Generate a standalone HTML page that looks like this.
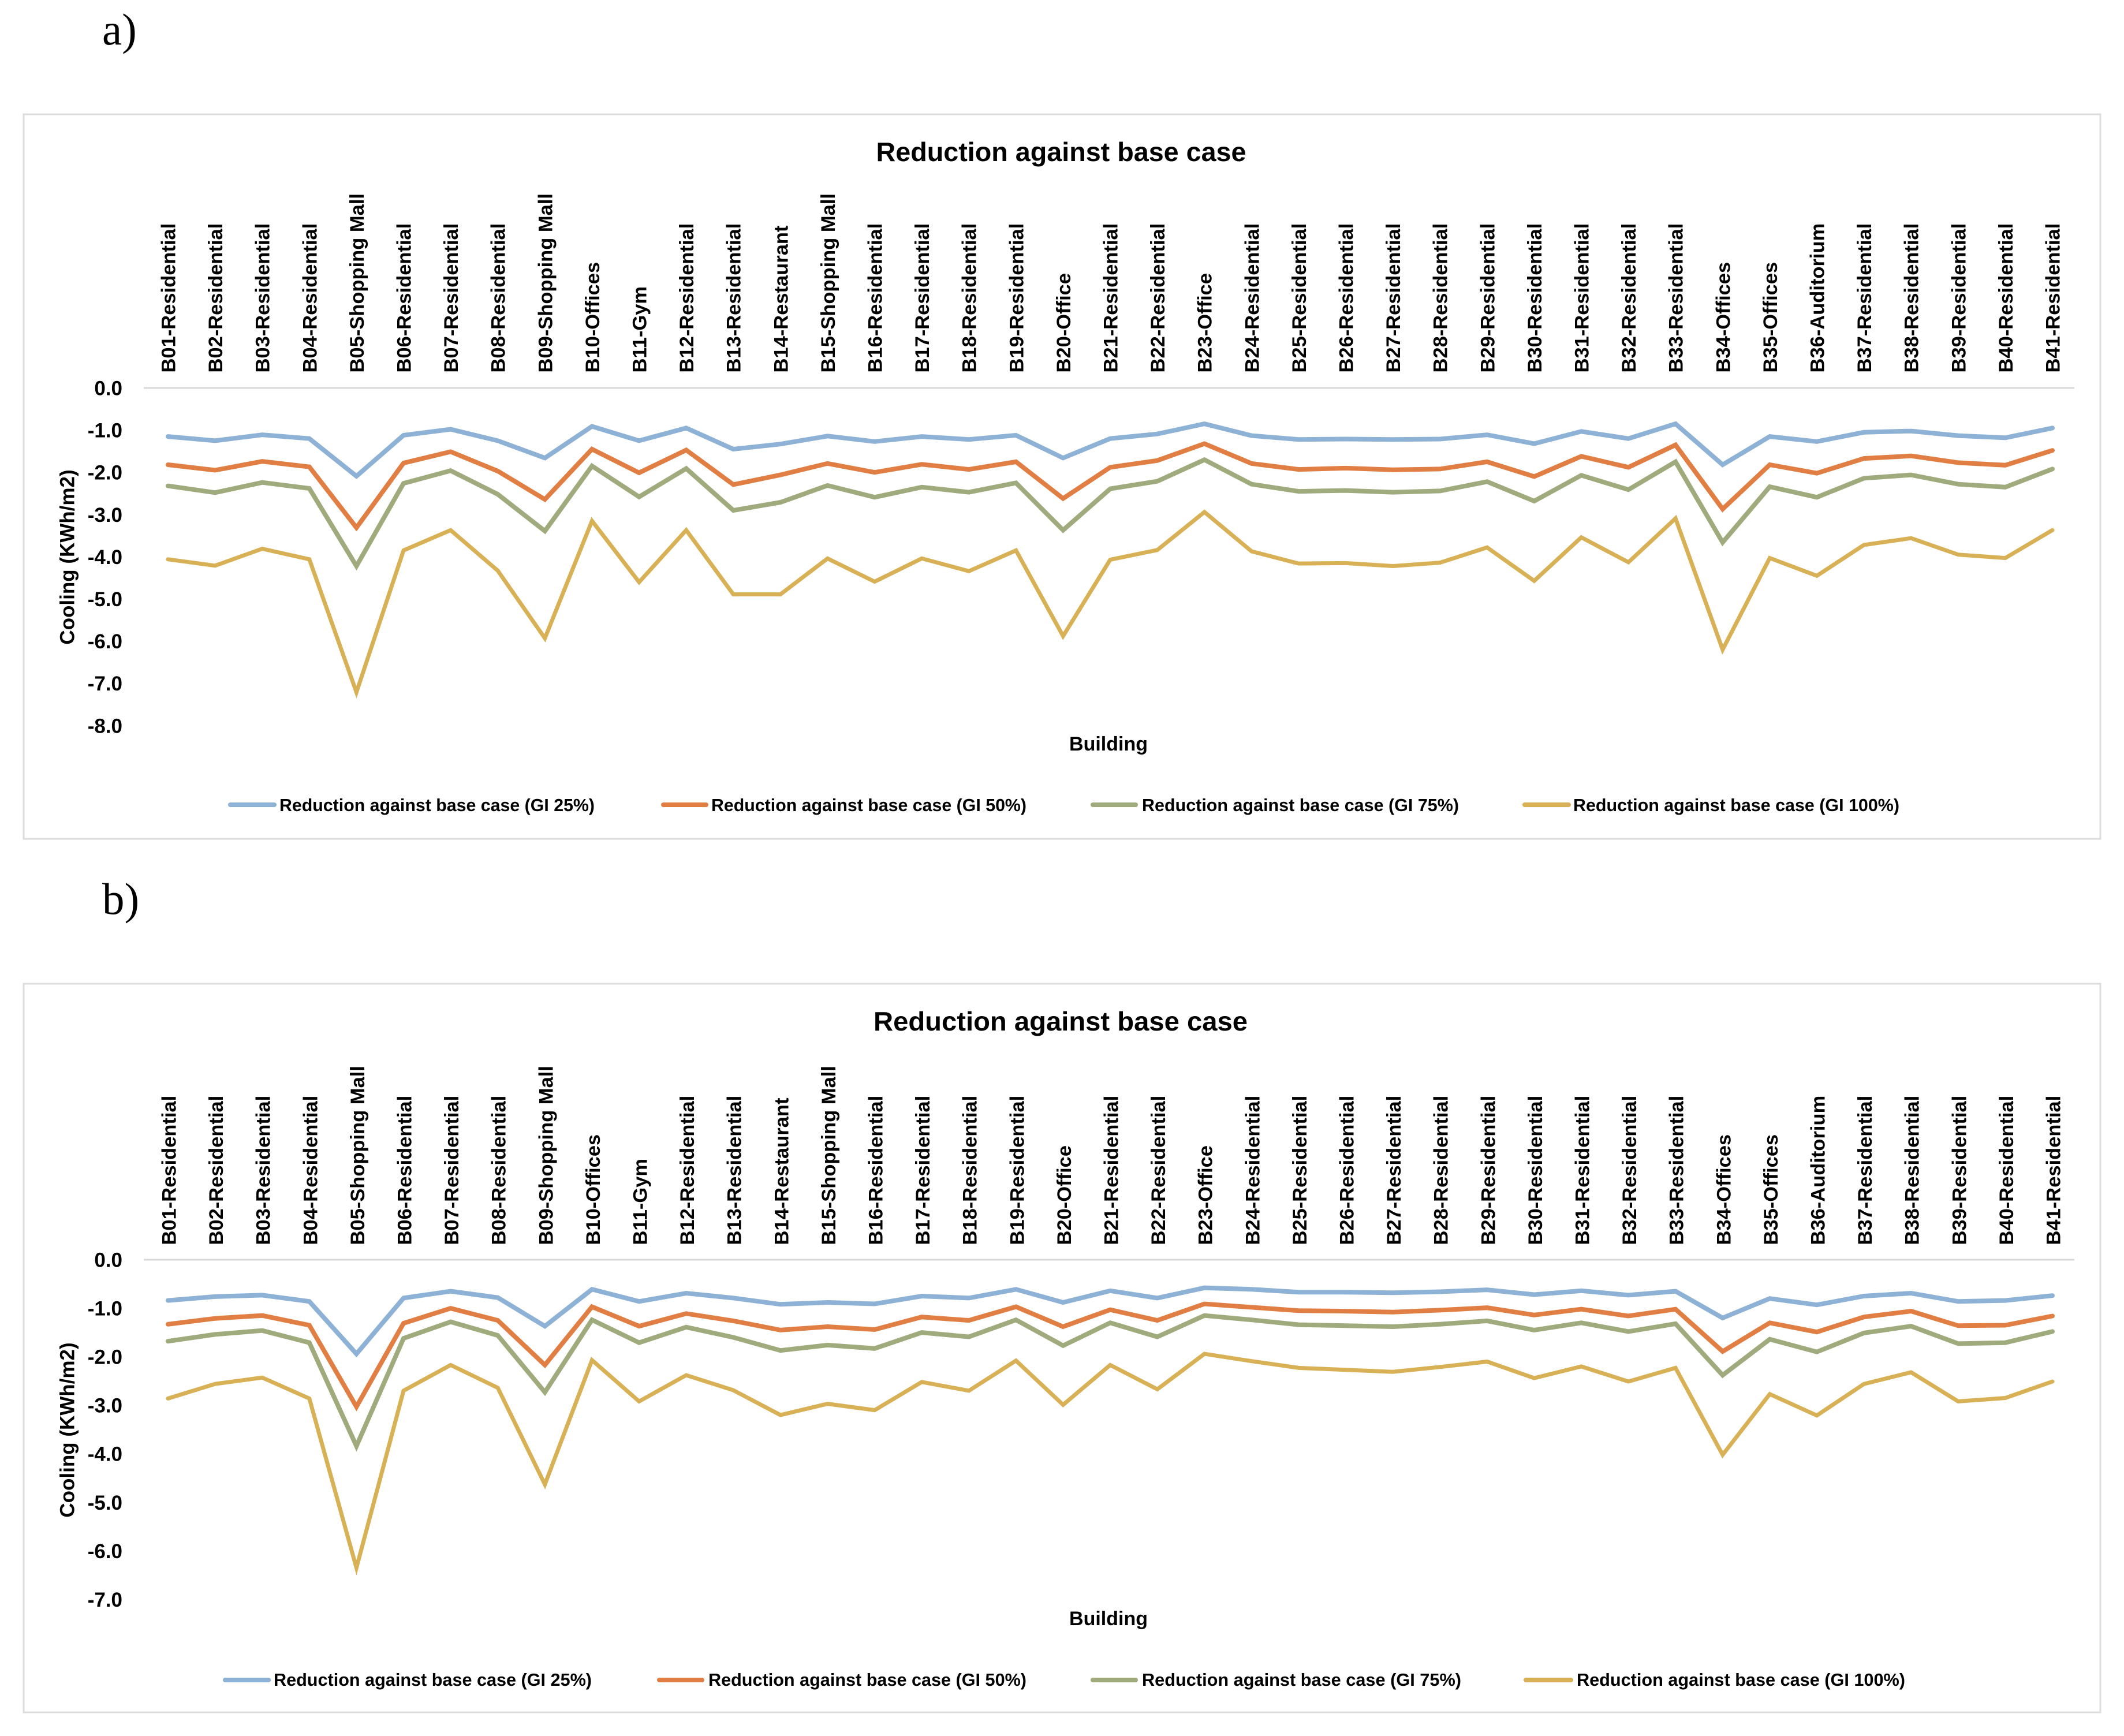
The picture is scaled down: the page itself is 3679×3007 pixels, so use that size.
<!DOCTYPE html>
<html lang="en">
<head>
<meta charset="utf-8">
<title>Reduction against base case</title>
<style>
html,body{margin:0;padding:0;background:#fff;}
svg{display:block;}
text{font-family:"Liberation Sans",sans-serif;font-weight:bold;fill:#000;}
.panel{font-family:"Liberation Serif",serif;font-weight:normal;font-size:77px;}
</style>
</head>
<body>
<svg id="figure" xmlns="http://www.w3.org/2000/svg" width="3679" height="3007" viewBox="0 0 3679 3007">
  <rect x="0" y="0" width="3679" height="3007" fill="#ffffff"/>
  <text class="panel" x="177" y="77">a)</text>
  <text class="panel" x="177" y="1583">b)</text>
</svg>
<script>
const categories = ["B01-Residential","B02-Residential","B03-Residential","B04-Residential","B05-Shopping Mall","B06-Residential","B07-Residential","B08-Residential","B09-Shopping Mall","B10-Offices","B11-Gym","B12-Residential","B13-Residential","B14-Restaurant","B15-Shopping Mall","B16-Residential","B17-Residential","B18-Residential","B19-Residential","B20-Office","B21-Residential","B22-Residential","B23-Office","B24-Residential","B25-Residential","B26-Residential","B27-Residential","B28-Residential","B29-Residential","B30-Residential","B31-Residential","B32-Residential","B33-Residential","B34-Offices","B35-Offices","B36-Auditorium","B37-Residential","B38-Residential","B39-Residential","B40-Residential","B41-Residential"];
const seriesNames = ["Reduction against base case (GI 25%)","Reduction against base case (GI 50%)","Reduction against base case (GI 75%)","Reduction against base case (GI 100%)"];
const ticksA = [0,-1,-2,-3,-4,-5,-6,-7,-8];
const ticksB = [0,-1,-2,-3,-4,-5,-6,-7];

const a25 = [-1.15,-1.25,-1.11,-1.20,-2.09,-1.12,-0.98,-1.25,-1.66,-0.91,-1.25,-0.95,-1.45,-1.33,-1.14,-1.27,-1.15,-1.22,-1.12,-1.66,-1.20,-1.09,-0.85,-1.13,-1.22,-1.21,-1.22,-1.21,-1.11,-1.32,-1.03,-1.20,-0.85,-1.82,-1.15,-1.27,-1.05,-1.02,-1.13,-1.18,-0.95];
const a50 = [-1.82,-1.95,-1.74,-1.87,-3.31,-1.78,-1.51,-1.97,-2.64,-1.45,-2.01,-1.47,-2.29,-2.06,-1.79,-2.00,-1.81,-1.93,-1.75,-2.62,-1.88,-1.72,-1.32,-1.79,-1.93,-1.90,-1.94,-1.92,-1.75,-2.10,-1.62,-1.88,-1.35,-2.87,-1.82,-2.02,-1.67,-1.61,-1.77,-1.83,-1.48];
const a75 = [-2.32,-2.48,-2.24,-2.38,-4.22,-2.26,-1.96,-2.52,-3.39,-1.85,-2.58,-1.91,-2.90,-2.71,-2.31,-2.59,-2.35,-2.47,-2.25,-3.37,-2.39,-2.21,-1.70,-2.28,-2.45,-2.43,-2.47,-2.44,-2.22,-2.68,-2.07,-2.41,-1.75,-3.66,-2.34,-2.59,-2.14,-2.06,-2.28,-2.35,-1.92];
const a100 = [-4.06,-4.21,-3.81,-4.06,-7.21,-3.85,-3.37,-4.33,-5.93,-3.15,-4.60,-3.37,-4.89,-4.89,-4.04,-4.59,-4.04,-4.34,-3.85,-5.88,-4.07,-3.84,-2.94,-3.87,-4.16,-4.15,-4.22,-4.14,-3.78,-4.57,-3.54,-4.13,-3.09,-6.20,-4.03,-4.45,-3.72,-3.56,-3.95,-4.03,-3.37];

const b25 = [-0.84,-0.76,-0.73,-0.86,-1.94,-0.79,-0.65,-0.78,-1.37,-0.61,-0.86,-0.69,-0.79,-0.92,-0.88,-0.91,-0.75,-0.79,-0.61,-0.88,-0.64,-0.79,-0.58,-0.61,-0.67,-0.67,-0.68,-0.66,-0.62,-0.72,-0.64,-0.73,-0.65,-1.20,-0.80,-0.93,-0.75,-0.69,-0.86,-0.84,-0.74];
const b50 = [-1.33,-1.21,-1.15,-1.35,-3.03,-1.31,-1.00,-1.25,-2.17,-0.97,-1.37,-1.11,-1.26,-1.45,-1.38,-1.44,-1.18,-1.25,-0.97,-1.38,-1.03,-1.25,-0.91,-0.98,-1.05,-1.06,-1.08,-1.04,-0.99,-1.14,-1.02,-1.16,-1.02,-1.89,-1.30,-1.49,-1.18,-1.06,-1.36,-1.35,-1.16];
const b75 = [-1.68,-1.54,-1.46,-1.71,-3.84,-1.62,-1.28,-1.56,-2.73,-1.24,-1.71,-1.39,-1.60,-1.87,-1.76,-1.83,-1.50,-1.59,-1.24,-1.77,-1.30,-1.59,-1.15,-1.24,-1.34,-1.36,-1.38,-1.33,-1.26,-1.45,-1.30,-1.48,-1.32,-2.38,-1.64,-1.90,-1.51,-1.37,-1.73,-1.71,-1.48];
const b100 = [-2.86,-2.56,-2.43,-2.86,-6.35,-2.70,-2.17,-2.64,-4.63,-2.07,-2.92,-2.38,-2.69,-3.20,-2.97,-3.10,-2.52,-2.70,-2.08,-2.99,-2.17,-2.67,-1.94,-2.09,-2.23,-2.27,-2.31,-2.21,-2.10,-2.44,-2.20,-2.51,-2.23,-4.02,-2.77,-3.21,-2.56,-2.32,-2.92,-2.85,-2.51];

const svgNS = "http://www.w3.org/2000/svg";
const figure = document.getElementById("figure");
const colors = ["#8db2d5","#e07e43","#9fab7c","#d8b156"];
const slugs = ["gi-25","gi-50","gi-75","gi-100"];
const widths = [8,8,8,7];

function make(tag, parent, attrs) {
  const el = document.createElementNS(svgNS, tag);
  for (const k in attrs) el.setAttribute(k, attrs[k]);
  parent.appendChild(el);
  return el;
}

function drawChart(cfg) {
  const xScale = i => cfg.x0 + i * cfg.xStep;
  const yScale = v => cfg.y0 - v * cfg.yUnit;

  const g = make("g", figure, {});
  
  

  const frame = make("rect", g, {x:cfg.left, y:cfg.top, width:cfg.right-cfg.left, height:cfg.bottom-cfg.top, fill:"#ffffff", stroke:"#dcdcdc", "stroke-width":3});
  
  

  const title = make("text", g, {x:cfg.titleX, y:cfg.titleY, "text-anchor":"middle", "font-size":46, textLength:cfg.titleW, lengthAdjust:"spacingAndGlyphs"});
  
  
  title.textContent = "Reduction against base case";

  const axis = make("line", g, {x1:249, x2:3593, y1:cfg.y0, y2:cfg.y0, stroke:"#d9d9d9", "stroke-width":3});
  
  

  cfg.ticks.forEach(t => {
    const tick = make("text", g, {x:212, y:yScale(t)+12.5, "text-anchor":"end", "font-size":35});
    
    
    tick.textContent = t.toFixed(1);
  });

  categories.forEach((c, i) => {
    const lx = xScale(i) + cfg.labelOffset;
    const label = make("text", g, {x:lx, y:cfg.labelBottom, "font-size":34.5, transform:"rotate(-90 " + lx + " " + cfg.labelBottom + ")"});
    
    
    label.textContent = c;
  });

  const yTitle = make("text", g, {x:128.5, y:cfg.yTitleY, "text-anchor":"middle", "font-size":35, transform:"rotate(-90 128.5 " + cfg.yTitleY + ")"});
  
  
  yTitle.textContent = "Cooling (KWh/m2)";

  const xTitle = make("text", g, {x:1920, y:cfg.xTitleY, "text-anchor":"middle", "font-size":34});
  
  
  xTitle.textContent = "Building";

  cfg.series.forEach((vals, s) => {
    const pts = vals.map((v, i) => xScale(i).toFixed(1) + "," + yScale(v).toFixed(1)).join(" ");
    const line = make("polyline", g, {points:pts, fill:"none", stroke:colors[s], "stroke-width":widths[s], "stroke-linejoin":"miter", "stroke-linecap":"round"});
    
    
  });

  cfg.legend.forEach((e, s) => {
    const entry = make("g", g, {});
    
    
    const swatch = make("line", entry, {x1:e[0]+4, x2:e[1]-4, y1:cfg.legendY, y2:cfg.legendY, stroke:colors[s], "stroke-width":8, "stroke-linecap":"round"});
    
    
    const txt = make("text", entry, {x:e[2], y:cfg.legendText, "font-size":31, textLength:e[3]-e[2], lengthAdjust:"spacingAndGlyphs"});
    
    
    txt.textContent = seriesNames[s];
  });
}

drawChart({
  id:"a", series:[a25,a50,a75,a100], ticks:ticksA,
  left:41, right:3638, top:198, bottom:1453,
  x0:291, xStep:81.6, y0:672, yUnit:73.1,
  titleX:1838, titleY:279, titleW:641,
  labelOffset:12.5, labelBottom:645.5,
  yTitleY:965, xTitleY:1300,
  legendY:1394, legendText:1405,
  legend:[[395,479,484,1030],[1145,1227,1232,1778],[1889,1971,1978,2527],[2637,2721,2725,3290]]
});
drawChart({
  id:"b", series:[b25,b50,b75,b100], ticks:ticksB,
  left:41, right:3638, top:1704, bottom:2966,
  x0:291, xStep:81.6, y0:2182, yUnit:84.05,
  titleX:1837, titleY:1785, titleW:648,
  labelOffset:13.5, labelBottom:2156.5,
  yTitleY:2477, xTitleY:2815,
  legendY:2910, legendText:2920,
  legend:[[386,469,474,1025],[1138,1220,1227,1778],[1889,1971,1978,2531],[2639,2725,2731,3300]]
});
</script>
</body>
</html>
